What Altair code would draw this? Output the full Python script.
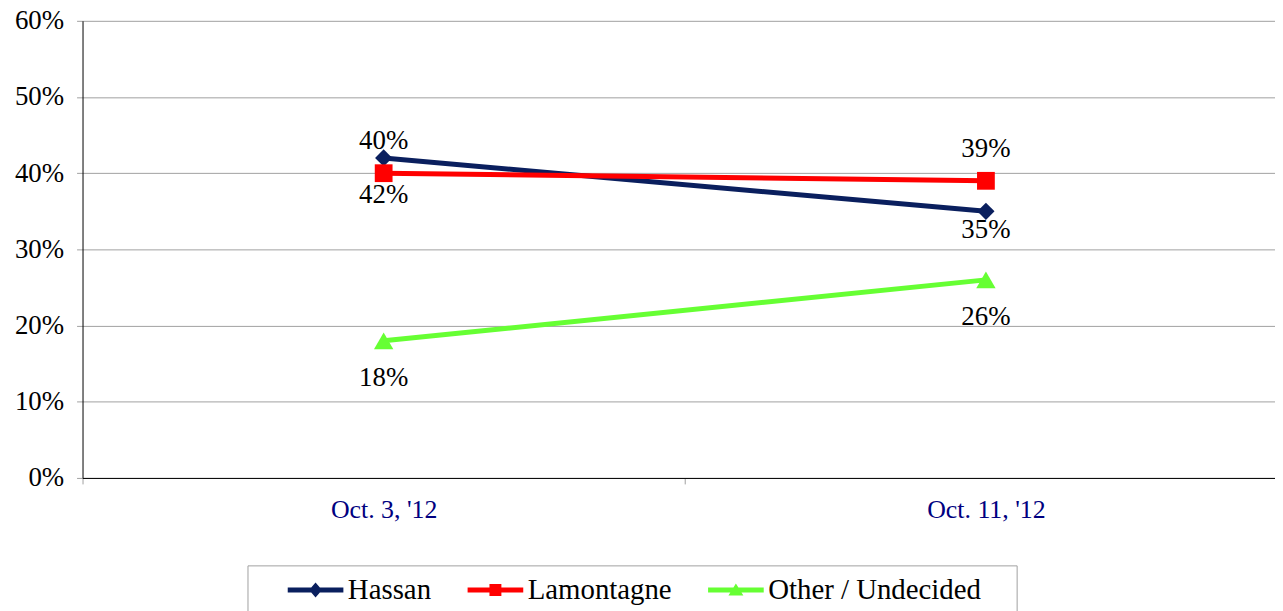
import json
import altair as alt
import pandas as pd

# ---- data ----
dates = ["Oct. 3, '12", "Oct. 11, '12"]
series_names = ["Hassan", "Lamontagne", "Other / Undecided"]
hassan = [42, 35]
lamontagne = [40, 39]
other = [18, 26]
y_ticks = [0, 10, 20, 30, 40, 50, 60]

# ---- styles ----
colors = ["#0A1F5E", "#FF0000", "#66FF33"]
marker_shapes = ["diamond", "square", "triangle-up"]
marker_sizes = [300, 320, 380]
label_place = {
    "Hassan": ["below_far", "below_near"],
    "Lamontagne": ["above", "above"],
    "Other / Undecided": ["below_far", "below_far"],
}
place_dy = {"above": -32, "below_far": 37, "below_near": 19}

# legend symbols: a thick line with the series marker (unit = 10px)
_anchor = "M-1,-1L-1,1Z "
_bar = "M1.6,-0.25L7.2,-0.25L7.2,0.25L1.6,0.25Z "
legend_paths = [
    _anchor + _bar + "M4.4,-0.75L5.05,0L4.4,0.75L3.75,0Z",
    _anchor + _bar + "M3.8,-0.6L5.0,-0.6L5.0,0.6L3.8,0.6Z",
    _anchor + _bar + "M4.4,-0.65L5.15,0.55L3.65,0.55Z",
]

FONT = "Liberation Serif"

rows = []
for name, vals in zip(series_names, [hassan, lamontagne, other]):
    for d, v, p in zip(dates, vals, label_place[name]):
        rows.append({"date": d, "series": name, "value": v,
                     "place": p, "label": f"{v}%"})
df = pd.DataFrame(rows)

# category slot: each date occupies one unit-wide band, mark at its centre
pos_expr = f"indexof({json.dumps(dates)}, datum.date) + 0.5"
label_expr = "".join(f"datum.value == {i + 0.5} ? {json.dumps(d)} : " for i, d in enumerate(dates)) + "''"
x_axis_values = [0, 0.5, 1, 1.5]

x_enc = alt.X(
    "pos:Q",
    scale=alt.Scale(domain=[0, 1.98], nice=False, zero=False),
    axis=alt.Axis(title=None, values=x_axis_values, labelExpr=label_expr,
                  labelAngle=0, labelOverlap=False, labelFlush=False, grid=False,
                  domainColor="black", domainWidth=1,
                  tickColor="#A0A0A0", tickSize=6,
                  tickOpacity={"condition": {"test": "datum.value % 1 == 0", "value": 1}, "value": 0},
                  labelFont=FONT, labelFontSize=26, labelColor="#000080",
                  labelPadding=13),
)
y_enc = alt.Y(
    "value:Q",
    scale=alt.Scale(domain=[0, 60], nice=False, zero=True),
    axis=alt.Axis(title=None, values=y_ticks, labelExpr="datum.value + '%'",
                  grid=True, gridColor="#A0A0A0", gridWidth=1,
                  domainColor="black", domainWidth=1,
                  tickColor="#A0A0A0", tickSize=6,
                  labelFont=FONT, labelFontSize=27, labelColor="black",
                  labelPadding=13),
)

base = alt.Chart(df).transform_calculate(pos=pos_expr)
layers = []
for name, col, shp, sz in zip(series_names, colors, marker_shapes, marker_sizes):
    sub = base.transform_filter(alt.datum.series == name)
    layers.append(sub.mark_line(color=col, strokeWidth=5, strokeJoin="round")
                  .encode(x=x_enc, y=y_enc))
    layers.append(sub.mark_point(shape=shp, filled=True, opacity=1, size=sz,
                                 color=col, strokeWidth=0)
                  .encode(x=x_enc, y=y_enc))

for place, dy in place_dy.items():
    layers.append(
        base.transform_filter(alt.datum.place == place)
        .mark_text(dy=dy, font=FONT, fontSize=27, color="black", baseline="middle")
        .encode(x=x_enc, y=y_enc, text="label:N")
    )

leg = alt.Legend(
    orient="none", legendX=166, legendY=548, direction="horizontal",
    title="\u00a0", titleOrient="right", titleFontSize=1, titlePadding=26,
    labelFont=FONT, labelFontSize=29, labelColor="black", labelLimit=500,
    labelOffset=62, symbolSize=400, symbolStrokeWidth=0, symbolOpacity=1,
    columnPadding=6, padding=10, strokeColor="#A0A0A0", fillColor="white",
)
legend_layer = (
    base.transform_filter("false")
    .mark_point(filled=True, opacity=1)
    .encode(
        x=x_enc, y=y_enc,
        color=alt.Color("series:N", scale=alt.Scale(domain=series_names, range=colors), legend=leg),
        shape=alt.Shape("series:N", scale=alt.Scale(domain=series_names, range=legend_paths), legend=leg),
    )
)
layers.append(legend_layer)

chart = (
    alt.layer(*layers)
    .properties(width=1200, height=460,
                autosize=alt.AutoSizeParams(type="none"),
                padding={"left": 75, "top": 11, "right": 0, "bottom": 132})
    .configure_view(stroke=None)
)

chart.save("out.html", embed_options={"renderer": "svg", "actions": False})
